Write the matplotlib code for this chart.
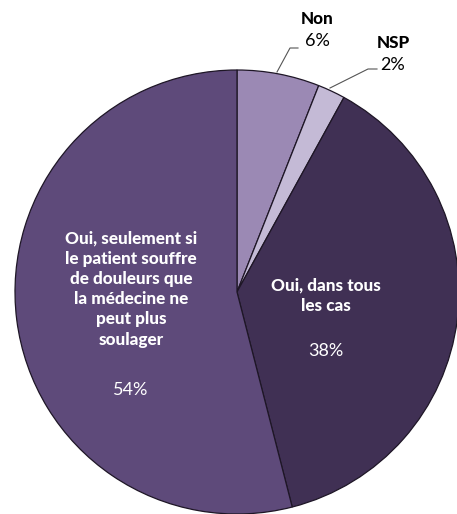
import matplotlib
matplotlib.use("Agg")
import matplotlib.pyplot as plt

categories = ["Non", "NSP", "Oui, dans tous\nles cas",
              "Oui, seulement si\nle patient souffre\nde douleurs que\nla médecine ne\npeut plus\nsoulager"]
values = [6, 2, 38, 54]
pct_labels = ["6%", "2%", "38%", "54%"]
colors = ["#9B89B4", "#C4BAD6", "#403054", "#5E4A7A"]

W, H = 457, 514
fig = plt.figure(figsize=(W / 100, H / 100), dpi=100)
ax = fig.add_axes([0, 0, 1, 1])

cx, cy, r = 237, 292, 222
# y-axis is inverted below, so start at -90 and go counterclockwise in data
ax.pie(values, colors=colors, startangle=-90, counterclock=True,
       center=(cx, cy), radius=r, frame=True,
       wedgeprops=dict(edgecolor="#1E1626", linewidth=0.9))
ax.set_xlim(0, W)
ax.set_ylim(H, 0)
ax.set_aspect("equal")
ax.axis("off")

bold = dict(family=["Lato", "DejaVu Sans"], fontweight="black", fontsize=12.3)
reg = dict(family=["Lato", "DejaVu Sans"], fontweight="normal", fontsize=13)

# inside labels
ax.text(131, 289, categories[3], color="white", ha="center", va="center",
        linespacing=1.33, **bold)
ax.text(131, 390, pct_labels[3], color="white", ha="center", va="center", **reg)
ax.text(326, 296, categories[2], color="white", ha="center", va="center",
        linespacing=1.33, **bold)
ax.text(326, 351, pct_labels[2], color="white", ha="center", va="center", **reg)

# outside labels
ax.text(317, 19, categories[0], color="black", ha="center", va="center", **bold)
ax.text(317, 41, pct_labels[0], color="black", ha="center", va="center", **reg)
ax.text(393, 43, categories[1], color="black", ha="center", va="center", **bold)
ax.text(393, 65, pct_labels[1], color="black", ha="center", va="center", **reg)

ax.plot([298, 290, 277], [48, 48, 72], color="#555555", lw=0.8)
ax.plot([377, 368, 330], [69, 69, 88], color="#555555", lw=0.8)

fig.savefig("out.png", dpi=100)
